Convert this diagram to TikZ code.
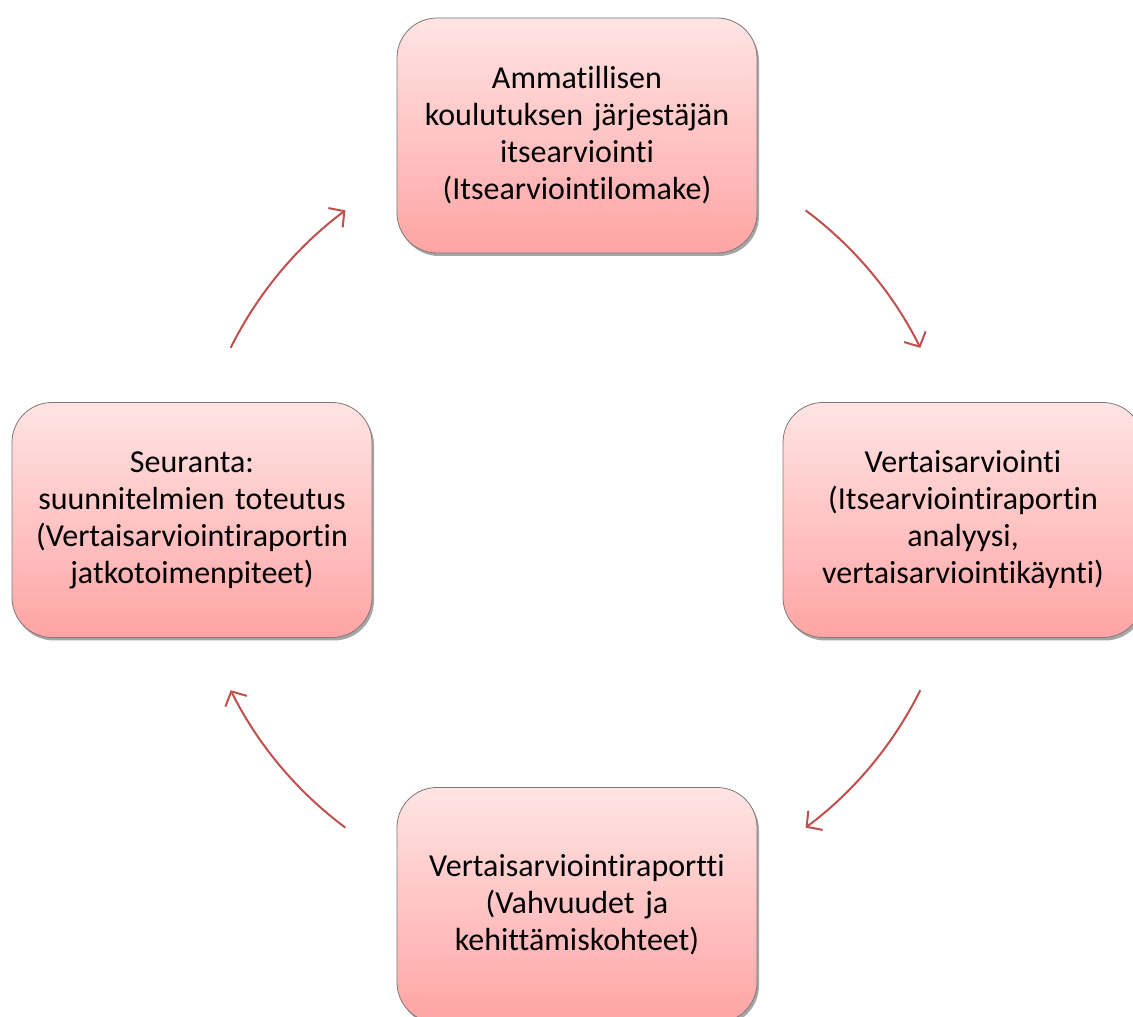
\documentclass[tikz,border=0pt]{standalone}
\usepackage{fontspec}
\setmainfont{Carlito}[Ligatures={NoCommon}]
\usetikzlibrary{arrows.meta,shadows,calc}
\definecolor{arrowred}{RGB}{192,80,77}
\definecolor{boxtop}{RGB}{255,228,228}
\definecolor{boxbot}{RGB}{255,164,164}
\definecolor{boxline}{RGB}{128,120,120}
\tikzset{
  stepbox/.style={rounded corners=40pt, minimum width=360pt, minimum height=235pt,
    draw=boxline, line width=0.8pt, top color=boxtop, bottom color=boxbot,
    drop shadow={shadow xshift=2pt, shadow yshift=-3pt, opacity=0.35, fill=black},
    align=center, text width=352pt, inner sep=0pt,
    font=\fontsize{32}{37}\selectfont},
  cyc/.style={draw=arrowred, line width=2pt,
    -{Straight Barb[length=11pt,width=24pt,line width=2pt]}}
}
\begin{document}
\begin{tikzpicture}[x=1pt,y=1pt]
\useasboundingbox (0,0) rectangle (1133,1017);
\clip (0,0) rectangle (1133,1017);
\fill[white] (0,0) rectangle (1133,1017);
\node[stepbox] (top) at (577,881.5) {Ammatillisen\\koulutuksen järjestäjän\\itsearviointi\\(Itsearviointilomake)};
\node[stepbox] (right) at (963,497) {Vertaisarviointi\\(Itsearviointiraportin\\analyysi,\\vertaisarviointikäynti)};
\node[stepbox] (bottom) at (577,112) {Vertaisarviointiraportti\\(Vahvuudet ja\\kehittämiskohteet)};
\node[stepbox] (left) at (192,497) {Seuranta:\\suunnitelmien toteutus\\(Vertaisarviointiraportin\\jatkotoimenpiteet)};
\coordinate (c) at (575.5,498);
\coordinate (a1) at ($(c)+(53.3:385)$);
\coordinate (a2) at ($(c)+(-26.4:385)$);
\coordinate (a3) at ($(c)+(-126.7:385)$);
\coordinate (a4) at ($(c)+(153.6:385)$);
\draw[cyc] (a1) arc[start angle=53.3, end angle=26.4, radius=385];
\draw[cyc] (a2) arc[start angle=-26.4, end angle=-53.3, radius=385];
\draw[cyc] (a3) arc[start angle=-126.7, end angle=-153.6, radius=385];
\draw[cyc] (a4) arc[start angle=153.6, end angle=126.7, radius=385];
\end{tikzpicture}
\end{document}
